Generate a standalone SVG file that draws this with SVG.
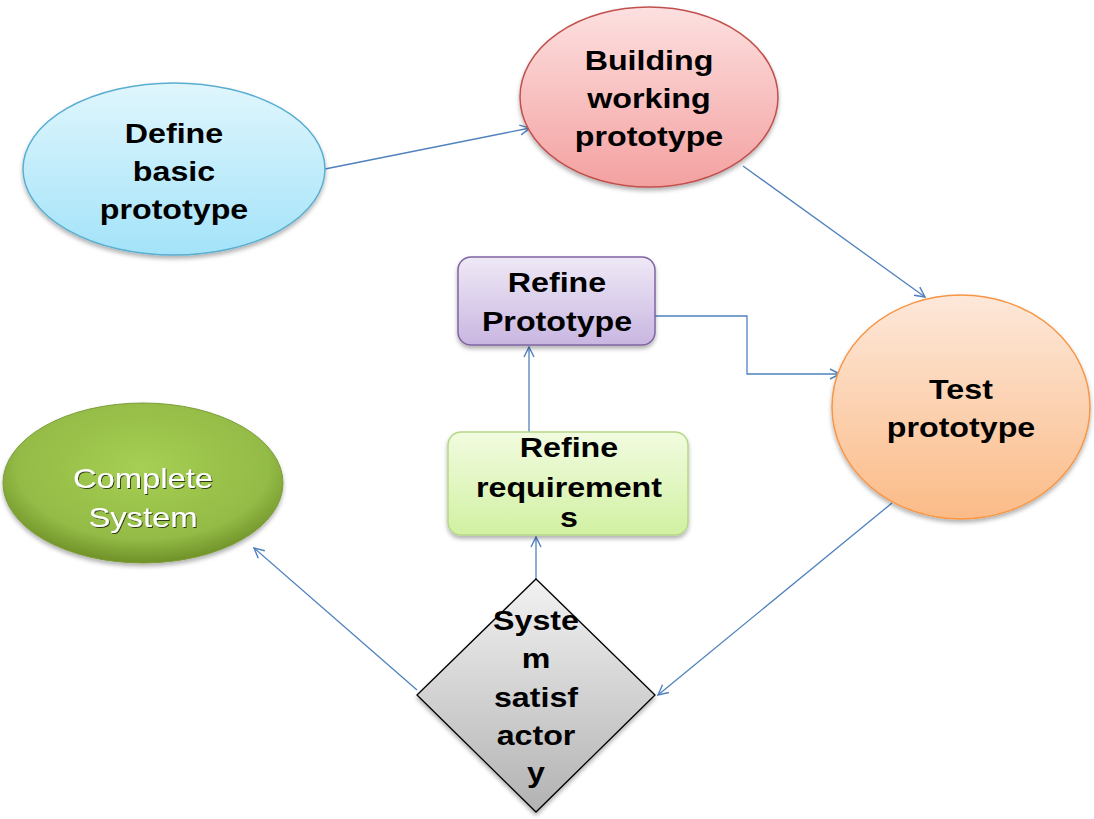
<svg xmlns="http://www.w3.org/2000/svg" width="1094" height="819" viewBox="0 0 1094 819">
  <defs>
    <linearGradient id="gBlue" x1="0" y1="0" x2="0" y2="1">
      <stop offset="0" stop-color="#e0f6fd"/>
      <stop offset="1" stop-color="#a3e3f9"/>
    </linearGradient>
    <linearGradient id="gRed" x1="0" y1="0" x2="0" y2="1">
      <stop offset="0" stop-color="#fde0e0"/>
      <stop offset="1" stop-color="#f3a1a0"/>
    </linearGradient>
    <linearGradient id="gPurple" x1="0" y1="0" x2="0" y2="1">
      <stop offset="0" stop-color="#efe9f6"/>
      <stop offset="1" stop-color="#c9b6e1"/>
    </linearGradient>
    <linearGradient id="gOrange" x1="0" y1="0" x2="0" y2="1">
      <stop offset="0" stop-color="#fde8da"/>
      <stop offset="1" stop-color="#fbbb87"/>
    </linearGradient>
    <linearGradient id="gLime" x1="0" y1="0" x2="0" y2="1">
      <stop offset="0" stop-color="#f2fbe0"/>
      <stop offset="1" stop-color="#d1f1a2"/>
    </linearGradient>
    <radialGradient id="gGreen" cx="0.5" cy="0.4" r="0.6">
      <stop offset="0" stop-color="#a6cf54"/>
      <stop offset="0.75" stop-color="#93bb46"/>
      <stop offset="1" stop-color="#6f9128"/>
    </radialGradient>
    <linearGradient id="gGrey" x1="0" y1="0" x2="0" y2="1">
      <stop offset="0" stop-color="#f2f2f2"/>
      <stop offset="1" stop-color="#b2b2b2"/>
    </linearGradient>
    <filter id="shadow" x="-10%" y="-10%" width="120%" height="130%">
      <feDropShadow dx="0" dy="3" stdDeviation="2" flood-color="#000" flood-opacity="0.3"/>
    </filter>
    <filter id="txtShadow" x="-10%" y="-20%" width="120%" height="140%">
      <feDropShadow dx="1" dy="1" stdDeviation="0.6" flood-color="#000" flood-opacity="0.7"/>
    </filter>
    <marker id="arrow" viewBox="0 0 12 12" refX="11" refY="6" markerWidth="12" markerHeight="12" markerUnits="userSpaceOnUse" orient="auto">
      <path d="M1,1 L11,6 L1,11" fill="none" stroke="#4f81bd" stroke-width="1.4"/>
    </marker>
  </defs>
  <style>
    .lbl { font-family: "Liberation Sans", Arial, sans-serif; font-size: 28px; font-weight: bold; fill: #000; text-anchor: middle; }
    .lblw { font-family: "Liberation Sans", Arial, sans-serif; font-size: 28px; fill: #fff; text-anchor: middle; }
    .edge { fill: none; stroke: #4f81bd; stroke-width: 1.3; marker-end: url(#arrow); }
  </style>

  <rect width="1094" height="819" fill="#ffffff"/>

  <!-- connectors -->
  <g id="connectors">
    <path class="edge" d="M325,169 L530,128"/>
    <path class="edge" d="M743,166 L925,297"/>
    <path class="edge" d="M655,316 L747,316 L747,374 L840,374"/>
    <path class="edge" d="M529,432 L529,347"/>
    <path class="edge" d="M536,579 L536,537"/>
    <path class="edge" d="M892,503 L658,695"/>
    <path class="edge" d="M417,690 L254,548"/>
  </g>

  <g id="define-basic-prototype">
    <ellipse cx="174" cy="169" rx="151" ry="86" fill="url(#gBlue)" stroke="#5aaed0" stroke-width="1.5" filter="url(#shadow)"/>
    <g class="lbl">
      <text class="lbl" transform="translate(174 0) scale(1.15 1)" y="143">Define</text>
      <text class="lbl" transform="translate(174 0) scale(1.15 1)" y="181">basic</text>
      <text class="lbl" transform="translate(174 0) scale(1.15 1)" y="219">prototype</text>
    </g>
  </g>

  <g id="building-working-prototype">
    <ellipse cx="649" cy="97" rx="129" ry="90" fill="url(#gRed)" stroke="#c0504d" stroke-width="1.5" filter="url(#shadow)"/>
    <text class="lbl" transform="translate(649 0) scale(1.15 1)" y="70">Building</text>
    <text class="lbl" transform="translate(649 0) scale(1.15 1)" y="108">working</text>
    <text class="lbl" transform="translate(649 0) scale(1.15 1)" y="146">prototype</text>
  </g>

  <g id="refine-prototype">
    <rect x="458" y="257" width="197" height="88" rx="13" fill="url(#gPurple)" stroke="#8064a2" stroke-width="1.5" filter="url(#shadow)"/>
    <text class="lbl" transform="translate(557 0) scale(1.15 1)" y="292">Refine</text>
    <text class="lbl" transform="translate(557 0) scale(1.15 1)" y="331">Prototype</text>
  </g>

  <g id="test-prototype">
    <ellipse cx="961" cy="407" rx="129" ry="112" fill="url(#gOrange)" stroke="#f79646" stroke-width="1.5" filter="url(#shadow)"/>
    <text class="lbl" transform="translate(961 0) scale(1.15 1)" y="399">Test</text>
    <text class="lbl" transform="translate(961 0) scale(1.15 1)" y="437">prototype</text>
  </g>

  <g id="complete-system">
    <ellipse cx="143" cy="483" rx="140" ry="80" fill="url(#gGreen)" stroke="#7c9c38" stroke-width="1" filter="url(#shadow)"/>
    <g filter="url(#txtShadow)">
      <text class="lblw" transform="translate(143 0) scale(1.17 1)" y="488">Complete</text>
      <text class="lblw" transform="translate(143 0) scale(1.17 1)" y="527">System</text>
    </g>
  </g>

  <g id="refine-requirements">
    <rect x="448" y="432" width="240" height="103" rx="13" fill="url(#gLime)" stroke="#b5d886" stroke-width="1.5" filter="url(#shadow)"/>
    <text class="lbl" transform="translate(569 0) scale(1.15 1)" y="457">Refine</text>
    <text class="lbl" transform="translate(569 0) scale(1.15 1)" y="497">requirement</text>
    <text class="lbl" transform="translate(569 0) scale(1.15 1)" y="527">s</text>
  </g>

  <g id="system-satisfactory">
    <polygon points="536,579 655,695 536,812 417,695" fill="url(#gGrey)" stroke="#000" stroke-width="1.3" filter="url(#shadow)"/>
    <text class="lbl" transform="translate(536 0) scale(1.15 1)" y="630">Syste</text>
    <text class="lbl" transform="translate(536 0) scale(1.15 1)" y="668">m</text>
    <text class="lbl" transform="translate(536 0) scale(1.15 1)" y="707">satisf</text>
    <text class="lbl" transform="translate(536 0) scale(1.15 1)" y="745">actor</text>
    <text class="lbl" transform="translate(536 0) scale(1.15 1)" y="782">y</text>
  </g>
</svg>
